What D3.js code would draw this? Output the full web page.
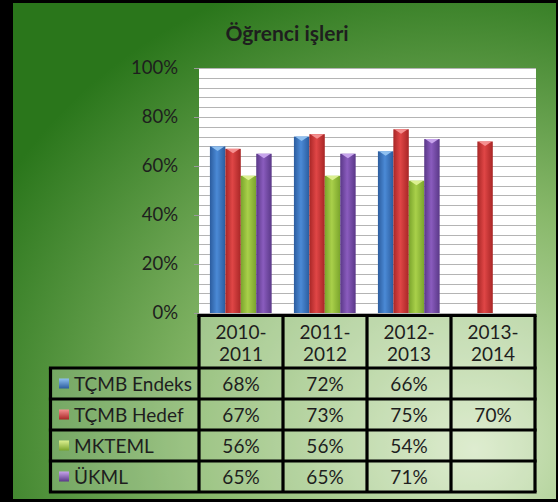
<!DOCTYPE html>
<html>
<head>
<meta charset="utf-8">
<script src="https://cdn.jsdelivr.net/npm/d3@7"></script>
<style>
  html, body { margin: 0; padding: 0; background: #000; }
  svg { display: block; }
  text { font-family: Lato, "Open Sans", sans-serif; fill: #1e1e1e; }
</style>
</head>
<body>
<svg width="558" height="502"></svg>
<script>
// veriler
var categories = ["2010-2011", "2011-2012", "2012-2013", "2013-2014"];
var seriesNames = ["TÇMB Endeks", "TÇMB Hedef", "MKTEML", "ÜKML"];
var endeks = [0.68, 0.72, 0.66, null];
var hedef = [0.67, 0.73, 0.75, 0.70];
var mkteml = [0.56, 0.56, 0.54, null];
var ukml = [0.65, 0.65, 0.71, null];
var yTicks = [0, 0.2, 0.4, 0.6, 0.8, 1];

var seriesValues = [endeks, hedef, mkteml, ukml];
var colors = [
    { edge: "#2b5c9e", mid: "#4b8ad6", cap: "#8fc0f0" },
    { edge: "#a82626", mid: "#e04646", cap: "#f59090" },
    { edge: "#7aa42c", mid: "#a9d04a", cap: "#dcf090" },
    { edge: "#5a3888", mid: "#8a5cbe", cap: "#c7a4ec" }
];

var svg = d3.select("svg");
var defs = svg.append("defs");

// arka plan
var bg = defs.append("radialGradient").attr("id", "bg")
    .attr("cx", "0.8").attr("cy", "0.85").attr("r", "0.95")
    .attr("fx", "0.85").attr("fy", "0.9");
bg.append("stop").attr("offset", "0").attr("stop-color", "#d6e8c4");
bg.append("stop").attr("offset", "0.5").attr("stop-color", "#88b86a");
bg.append("stop").attr("offset", "1").attr("stop-color", "#2a761b");

svg.append("rect")
    .attr("x", 13).attr("y", 3).attr("width", 543).attr("height", 496)
    .attr("fill", "url(#bg)");

colors.forEach(function (c, i) {
    var g = defs.append("linearGradient").attr("id", "bar" + i)
        .attr("x1", "0").attr("x2", "1").attr("y1", "0").attr("y2", "0");
    g.append("stop").attr("offset", "0").attr("stop-color", c.edge);
    g.append("stop").attr("offset", "0.45").attr("stop-color", c.mid);
    g.append("stop").attr("offset", "1").attr("stop-color", c.edge);
});

var plot = { left: 199, right: 536, top: 68, bottom: 313 };

var x0 = d3.scaleBand().domain(categories).range([plot.left, plot.right - 1]);
var x1 = d3.scaleBand().domain(seriesNames)
    .range([x0.bandwidth() * 0.13, x0.bandwidth() * 0.865]);
var y = d3.scaleLinear().domain([0, 1]).range([plot.bottom, plot.top]);

// baslik
svg.append("text")
    .attr("x", 287).attr("y", 41)
    .attr("text-anchor", "middle")
    .style("font-size", "21px").style("font-weight", "bold")
    .text("Öğrenci işleri");

// cizim alani
svg.append("rect")
    .attr("x", plot.left).attr("y", plot.top)
    .attr("width", plot.right - plot.left).attr("height", plot.bottom - plot.top)
    .attr("fill", "#fff");

svg.append("g")
    .selectAll("line")
    .data(d3.range(0, 1.0001, 0.04))
    .enter().append("line")
    .attr("x1", plot.left).attr("x2", plot.right)
    .attr("y1", function (d) { return Math.round(y(d)) + 0.5; })
    .attr("y2", function (d) { return Math.round(y(d)) + 0.5; })
    .attr("stroke", "#b4b4b4");

// y ekseni
var yAxis = svg.append("g")
    .attr("transform", "translate(" + plot.left + ",0)")
    .call(d3.axisLeft(y).tickValues(yTicks).tickFormat(d3.format(".0%"))
        .tickSize(5).tickPadding(16));
yAxis.select(".domain").remove();
yAxis.selectAll(".tick line").attr("stroke", "#9a9a9a");
yAxis.selectAll(".tick text")
    .style("font-size", "18.5px").style("font-family", "Lato, sans-serif")
    .attr("fill", "#1e1e1e");

// cubuklar
var groups = svg.append("g")
    .selectAll("g")
    .data(categories)
    .enter().append("g")
    .attr("transform", function (d) { return "translate(" + x0(d) + ",0)"; });

groups.each(function (cat, ci) {
    var g = d3.select(this);
    seriesNames.forEach(function (s, si) {
        var v = seriesValues[si][ci];
        if (v == null) return;
        var bx = x1(s), bw = x1.bandwidth(), by = y(v);
        g.append("rect")
            .attr("x", bx).attr("y", by)
            .attr("width", bw).attr("height", plot.bottom - by)
            .attr("fill", "url(#bar" + si + ")");
        g.append("path")
            .attr("d", "M" + (bx + 1) + "," + by + "L" + (bx + bw - 1) + "," + by +
                "L" + (bx + bw / 2) + "," + (by + 4.5) + "Z")
            .attr("fill", colors[si].cap);
    });
});

// tablo
var table = { top: 315.5, headBottom: 368, rowH: 31, labelLeft: 50.5 };
var rowY = d3.scaleBand().domain(seriesNames)
    .range([table.headBottom, table.headBottom + table.rowH * seriesNames.length]);
var tableRight = plot.right - 1;

var tg = svg.append("g");

// hucre arka planlari
tg.selectAll("rect.head")
    .data(categories)
    .enter().append("rect")
    .attr("x", function (d) { return x0(d); })
    .attr("y", table.top)
    .attr("width", x0.bandwidth()).attr("height", table.headBottom - table.top)
    .attr("fill", "rgba(255,255,255,0.28)");

tg.selectAll("rect.row")
    .data(seriesNames)
    .enter().append("rect")
    .attr("x", table.labelLeft).attr("y", function (d) { return rowY(d); })
    .attr("width", tableRight - table.labelLeft).attr("height", rowY.bandwidth())
    .attr("fill", "rgba(255,255,255,0.2)");

// baslik metinleri
tg.selectAll("text.head")
    .data(categories)
    .enter().append("text")
    .attr("text-anchor", "middle")
    .style("font-size", "19px")
    .each(function (d) {
        var parts = d.split("-");
        var t = d3.select(this);
        t.append("tspan").attr("x", x0(d) + x0.bandwidth() / 2).attr("y", 339).text(parts[0] + "-");
        t.append("tspan").attr("x", x0(d) + x0.bandwidth() / 2).attr("y", 361).text(parts[1]);
    });

// seri etiketleri ve lejant kareleri
var keys = tg.selectAll("g.key")
    .data(seriesNames)
    .enter().append("g");

colors.forEach(function (c, i) {
    var g = defs.append("linearGradient").attr("id", "key" + i)
        .attr("x1", "0").attr("x2", "0").attr("y1", "0").attr("y2", "1");
    g.append("stop").attr("offset", "0").attr("stop-color", c.cap);
    g.append("stop").attr("offset", "1").attr("stop-color", c.edge);
});

keys.append("rect")
    .attr("x", 59).attr("width", 10).attr("height", 10)
    .attr("y", function (d) { return rowY(d) + rowY.bandwidth() / 2 - 5; })
    .attr("fill", function (d, i) { return "url(#key" + i + ")"; });

keys.append("text")
    .attr("x", 74)
    .attr("y", function (d) { return rowY(d) + rowY.bandwidth() / 2 + 7; })
    .style("font-size", "19px")
    .text(function (d) { return d; });

// deger metinleri
seriesNames.forEach(function (s, si) {
    tg.selectAll(null)
        .data(categories)
        .enter().append("text")
        .attr("text-anchor", "middle")
        .attr("x", function (d) { return x0(d) + x0.bandwidth() / 2; })
        .attr("y", rowY(s) + rowY.bandwidth() / 2 + 7)
        .style("font-size", "19px")
        .text(function (d, ci) {
            var v = seriesValues[si][ci];
            return v == null ? "" : d3.format(".0%")(v);
        });
});

// cizgiler
var lineW = 3.2;
var hLines = [table.headBottom].concat(seriesNames.map(function (d) { return rowY(d) + rowY.bandwidth(); }));
tg.append("line")
    .attr("x1", plot.left - lineW / 2).attr("x2", tableRight + lineW / 2)
    .attr("y1", table.top).attr("y2", table.top)
    .attr("stroke", "#000").attr("stroke-width", lineW);
tg.selectAll("line.h")
    .data(hLines)
    .enter().append("line")
    .attr("x1", table.labelLeft - lineW / 2).attr("x2", tableRight + lineW / 2)
    .attr("y1", function (d) { return d; }).attr("y2", function (d) { return d; })
    .attr("stroke", "#000").attr("stroke-width", lineW);

var vLines = categories.map(function (d) { return x0(d); }).concat([tableRight]);
var tableBottom = hLines[hLines.length - 1];
tg.selectAll("line.v")
    .data(vLines)
    .enter().append("line")
    .attr("x1", function (d) { return d; }).attr("x2", function (d) { return d; })
    .attr("y1", table.top).attr("y2", tableBottom)
    .attr("stroke", "#000").attr("stroke-width", lineW);
tg.append("line")
    .attr("x1", table.labelLeft).attr("x2", table.labelLeft)
    .attr("y1", table.headBottom).attr("y2", tableBottom)
    .attr("stroke", "#000").attr("stroke-width", lineW);
</script>
</body>
</html>
